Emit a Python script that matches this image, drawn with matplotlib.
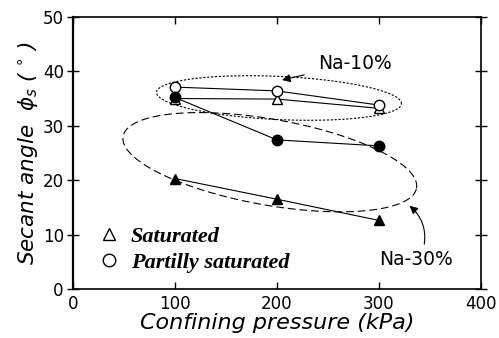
import numpy as np
import matplotlib.pyplot as plt
from matplotlib.lines import Line2D

# confining pressure (kPa)
pressure = [100, 200, 300]

# secant angle (deg)
na10_sat = [35.0, 34.9, 33.2]
na10_part = [37.1, 36.4, 33.8]
na30_sat = [20.3, 16.5, 12.6]
na30_part = [35.2, 27.4, 26.3]

W, H = 4.99, 3.38
fig = plt.figure(figsize=(W, H), dpi=100)
ax = fig.add_axes([0.146, 0.145, 0.818, 0.805])
ax.set_xlim(0, 400)
ax.set_ylim(0, 50)

ms = 7.5
lw = 0.8
ax.plot(pressure, na10_sat, '-', color='k', lw=lw, marker='^', ms=ms, mfc='white', mec='k', zorder=3)
ax.plot(pressure, na10_part, '-', color='k', lw=lw, marker='o', ms=ms, mfc='white', mec='k', zorder=3)
ax.plot(pressure, na30_part, '-', color='k', lw=lw, marker='o', ms=ms, mfc='k', mec='k', zorder=4)
ax.plot(pressure, na30_sat, '-', color='k', lw=lw, marker='^', ms=ms, mfc='k', mec='k', zorder=4)

# pixels per data unit, used to draw tilted ellipses
ppx = 0.818 * W * 100 / 400
ppy = 0.805 * H * 100 / 50

def ellipse(cx, cy, a, b, ang):
    t = np.linspace(0, 2*np.pi, 400)
    px = a*np.cos(t)
    py = b*np.sin(t)
    r = np.deg2rad(ang)
    qx = px*np.cos(r) - py*np.sin(r)
    qy = px*np.sin(r) + py*np.cos(r)
    return cx + qx/ppx, cy + qy/ppy

ex, ey = ellipse(202, 35.1, 122.6, 21.6, -2.65)
ax.plot(ex, ey, color='k', lw=0.8, ls=(0, (2, 1.5)), zorder=2)
ex, ey = ellipse(193, 23.3, 149, 43, -10)
ax.plot(ex, ey, color='k', lw=0.8, ls=(0, (7, 3.5)), zorder=2)

ax.annotate('Na-10%', xy=(205, 38.4), xytext=(240, 41.5), fontsize=13.5,
            va='center', ha='left',
            arrowprops=dict(arrowstyle='-|>', color='k', lw=0.8, mutation_scale=12,
                            shrinkA=8, shrinkB=0))
ax.annotate('Na-30%', xy=(330, 15.3), xytext=(300, 5.5), fontsize=13.5,
            va='center', ha='left',
            arrowprops=dict(arrowstyle='-|>', color='k', lw=0.8, mutation_scale=12,
                            shrinkA=2, shrinkB=0, connectionstyle='arc3,rad=0.3',
                            relpos=(0.6, 1.0)))

handles = [Line2D([], [], ls='none', marker='^', ms=9, mfc='white', mec='k'),
           Line2D([], [], ls='none', marker='o', ms=9, mfc='white', mec='k')]
ax.legend(handles, ['Saturated', 'Partilly saturated'], loc='lower left',
          bbox_to_anchor=(0.012, -0.015), frameon=False, handlelength=1.0,
          handletextpad=0.5, labelspacing=0.25,
          prop=dict(family='Liberation Serif', style='italic', weight='bold', size=16))

ax.set_xticks([0, 100, 200, 300, 400])
ax.set_yticks([0, 10, 20, 30, 40, 50])
ax.tick_params(axis='both', labelsize=12, width=1.0, length=5)
ax.tick_params(axis='y', direction='inout', length=9, pad=2)
ax.tick_params(axis='x', direction='in', pad=4, top=True)
ax.yaxis.set_tick_params(right=True)
for s in ax.spines.values():
    s.set_linewidth(1.2)
ax.spines['left'].set_linewidth(1.6)

ax.set_xlabel('Confining pressure (kPa)', fontsize=16, style='italic', labelpad=0)
ax.set_ylabel(r'Secant angle  $\phi_s$ ( $^{\circ}$ )', fontsize=15.5, style='italic', labelpad=1)

fig.savefig('out.png', dpi=100)
